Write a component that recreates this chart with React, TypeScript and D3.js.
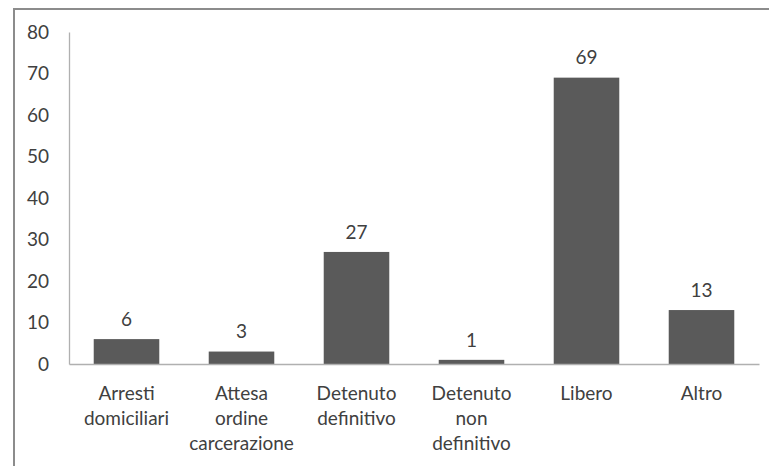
import { useEffect, useRef } from 'react';
import * as d3 from 'd3';

const categories = [
  'Arresti domiciliari',
  'Attesa ordine carcerazione',
  'Detenuto definitivo',
  'Detenuto non definitivo',
  'Libero',
  'Altro',
];
const categoryLines = [
  ['Arresti', 'domiciliari'],
  ['Attesa', 'ordine', 'carcerazione'],
  ['Detenuto', 'definitivo'],
  ['Detenuto', 'non', 'definitivo'],
  ['Libero'],
  ['Altro'],
];
const values = [6, 3, 27, 1, 69, 13];
const yTicks = [0, 10, 20, 30, 40, 50, 60, 70, 80];

export default function App() {
  const svgRef = useRef<SVGSVGElement>(null);

  useEffect(() => {
    if (!svgRef.current) return;
    const width = 769;
    const height = 466;
    const margin = { top: 32, right: 10, bottom: 102, left: 69 };
    const innerWidth = width - margin.left - margin.right;
    const innerHeight = height - margin.top - margin.bottom;
    const font = "Lato, 'Open Sans', sans-serif";
    const textColor = '#404040';

    const svg = d3.select(svgRef.current);
    svg.selectAll('*').remove();
    svg.attr('width', width).attr('height', height);

    svg.append('rect')
      .attr('x', 0).attr('y', 0)
      .attr('width', width).attr('height', height)
      .attr('fill', '#ffffff');

    // outer frame (runs off the right and bottom edges)
    svg.append('rect')
      .attr('x', 14).attr('y', 9)
      .attr('width', 800).attr('height', 500)
      .attr('fill', 'none')
      .attr('stroke', '#8c8c8c')
      .attr('stroke-width', 2);

    const g = svg.append('g')
      .attr('transform', `translate(${margin.left},${margin.top})`);

    const xScale = d3.scaleBand<string>()
      .domain(categories)
      .range([0, innerWidth])
      .paddingInner(0.43)
      .paddingOuter(0.215);

    const yScale = d3.scaleLinear()
      .domain([0, 80])
      .range([innerHeight, 0]);

    const yAxis = g.append('g')
      .call(d3.axisLeft(yScale).tickValues(yTicks).tickSize(0).tickPadding(20));
    yAxis.select('.domain').attr('stroke', '#b0b0b0').attr('stroke-width', 1.3);
    yAxis.selectAll('text')
      .attr('fill', textColor)
      .style('font-family', font)
      .style('font-size', '19px');

    g.selectAll('rect.bar')
      .data(values)
      .join('rect')
      .attr('class', 'bar')
      .attr('x', (_, i) => xScale(categories[i]) ?? 0)
      .attr('y', (d) => yScale(d))
      .attr('width', xScale.bandwidth())
      .attr('height', (d) => innerHeight - yScale(d))
      .attr('fill', '#5a5a5a');

    const xAxis = g.append('g')
      .attr('transform', `translate(0,${innerHeight})`)
      .call(d3.axisBottom(xScale).tickSize(0).tickFormat(() => ''));
    xAxis.select('.domain').attr('stroke', '#b0b0b0').attr('stroke-width', 1.3);

    categories.forEach((c, i) => {
      const cx = (xScale(c) ?? 0) + xScale.bandwidth() / 2;
      categoryLines[i].forEach((line, j) => {
        g.append('text')
          .attr('x', cx)
          .attr('y', innerHeight + 29 + j * 25)
          .attr('dy', '0.35em')
          .attr('text-anchor', 'middle')
          .attr('fill', textColor)
          .style('font-family', font)
          .style('font-size', '19px')
          .text(line);
      });
    });

    g.selectAll('text.value')
      .data(values)
      .join('text')
      .attr('class', 'value')
      .attr('x', (_, i) => (xScale(categories[i]) ?? 0) + xScale.bandwidth() / 2)
      .attr('y', (d) => yScale(d) - 20)
      .attr('dy', '0.35em')
      .attr('text-anchor', 'middle')
      .attr('fill', textColor)
      .style('font-family', font)
      .style('font-size', '19px')
      .text((d) => String(d));
  }, []);

  return (
    <div style={{ position: 'absolute', left: 0, top: 0 }}>
      <svg ref={svgRef} style={{ display: 'block' }} />
    </div>
  );
}
